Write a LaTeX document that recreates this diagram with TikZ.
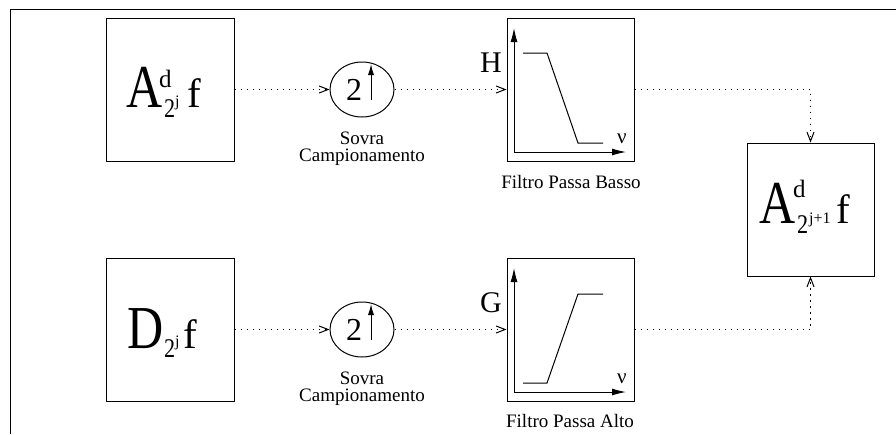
\documentclass[tikz,border=0pt]{standalone}
\usepackage{fontspec}
\setmainfont{Liberation Serif}
\usepackage{graphicx}
\usetikzlibrary{arrows.meta,shapes.geometric}
\newcommand{\cnd}[1]{\scalebox{0.82}[1]{#1}}
\begin{document}
\begin{tikzpicture}[x=1pt,y=-1pt,
  blk/.style={draw,line width=1pt,inner sep=0pt,minimum width=128pt,minimum height=143pt},
  fblk/.style={draw,line width=1pt,inner sep=0pt,minimum width=127pt,minimum height=143pt},
  upc/.style={draw,ellipse,line width=1pt,inner sep=0pt,minimum width=64pt,minimum height=55pt},
  conn/.style={line width=1pt,dash pattern=on 1.2pt off 4.8pt,-{Straight Barb[length=9pt,width=7pt]}},
  axis/.style={line width=1pt,-{Latex[length=14pt,width=7pt]}},
  resp/.style={line width=1pt},
  txt/.style={inner sep=0pt,anchor=base west},
  lbl/.style={inner sep=0pt,anchor=base,font=\fontsize{19}{19}\selectfont},
  big/.style={txt,font=\fontsize{61}{61}\selectfont},
  mid/.style={txt,font=\fontsize{41}{41}\selectfont},
  sup/.style={txt,font=\fontsize{25}{25}\selectfont},
  sub/.style={txt,font=\fontsize{27}{27}\selectfont},
  tiny/.style={txt,font=\fontsize{16}{16}\selectfont}]
\useasboundingbox (0,0) rectangle (896,434);
% frame
\draw[line width=1pt] (896,9.5) -- (10.5,9.5) -- (10.5,434);
% blocks
\node[blk] (boxA) at (170,89.5) {};
\node[blk] (boxD) at (170,329.5) {};
\node[upc] (up1) at (362,89.5) {};
\node[upc] (up2) at (362,329.5) {};
\node[fblk] (filtH) at (570.5,89.5) {};
\node[fblk] (filtG) at (570.5,329.5) {};
\node[draw,line width=1pt,inner sep=0pt,minimum width=127pt,minimum height=133pt] (outb) at (810.5,209.5) {};
% labels in box A
\node[big] (tA) at (126,107) {\cnd{A}};
\node[sup] (tAd) at (159,87) {d};
\node[sub] (tA2) at (164,117) {\cnd{2}};
\node[tiny] (tAj) at (175,106) {j};
\node[mid] (tAf) at (187,107) {f};
% labels in box D
\node[big] (tD) at (127,348) {\cnd{D}};
\node[sub] (tD2) at (164,357) {\cnd{2}};
\node[tiny] (tDj) at (175,346) {j};
\node[mid] (tDf) at (183,348) {f};
% labels in output box
\node[big] (tO) at (759,223) {\cnd{A}};
\node[sup] (tOd) at (793,197) {d};
\node[sub] (tO2) at (797,233) {\cnd{2}};
\node[tiny] (tOj) at (809,223) {j+1};
\node[mid] (tOf) at (836,223) {f};
% upsampler contents
\node[txt,font=\fontsize{32}{32}\selectfont] (two1) at (346,100) {2};
\node[txt,font=\fontsize{32}{32}\selectfont] (two2) at (346,340) {2};
\draw[-{Latex[length=11pt,width=6pt]},line width=1pt] (371,100) -- (371,64);
\draw[-{Latex[length=11pt,width=6pt]},line width=1pt] (371,340) -- (371,304);
\node[lbl] (s1) at (362,144) {Sovra};
\node[lbl] (c1) at (362,161) {Campionamento};
\node[lbl] (s2) at (362,384) {Sovra};
\node[lbl] (c2) at (362,401) {Campionamento};
% low-pass filter
\draw[axis] (514,152) -- (514,28);
\draw[axis] (514,152) -- (626,152);
\draw[resp] (523,53) -- (547,53) -- (578,143) -- (603,143);
\node[txt,font=\fontsize{21}{21}\selectfont] (nu1) at (617,143) {ν};
\node[txt,font=\fontsize{30}{30}\selectfont] (hH) at (480,72) {H};
\node[lbl] (fb) at (571,188) {Filtro Passa Basso};
% high-pass filter
\draw[axis] (514,392) -- (514,268);
\draw[axis] (514,392) -- (626,392);
\draw[resp] (523,383) -- (547,383) -- (578,294) -- (603,294);
\node[txt,font=\fontsize{21}{21}\selectfont] (nu2) at (617,383) {ν};
\node[txt,font=\fontsize{30}{30}\selectfont] (hG) at (480,312) {G};
\node[lbl] (fa) at (570,427) {Filtro Passa Alto};
% connectors
\draw[conn] (boxA.east) -- (up1.west);
\draw[conn] (up1.east) -- (filtH.west);
\draw[conn] (filtH.east) -| (outb.north);
\draw[conn] (boxD.east) -- (up2.west);
\draw[conn] (up2.east) -- (filtG.west);
\draw[conn] (filtG.east) -| (outb.south);
\end{tikzpicture}
\end{document}
